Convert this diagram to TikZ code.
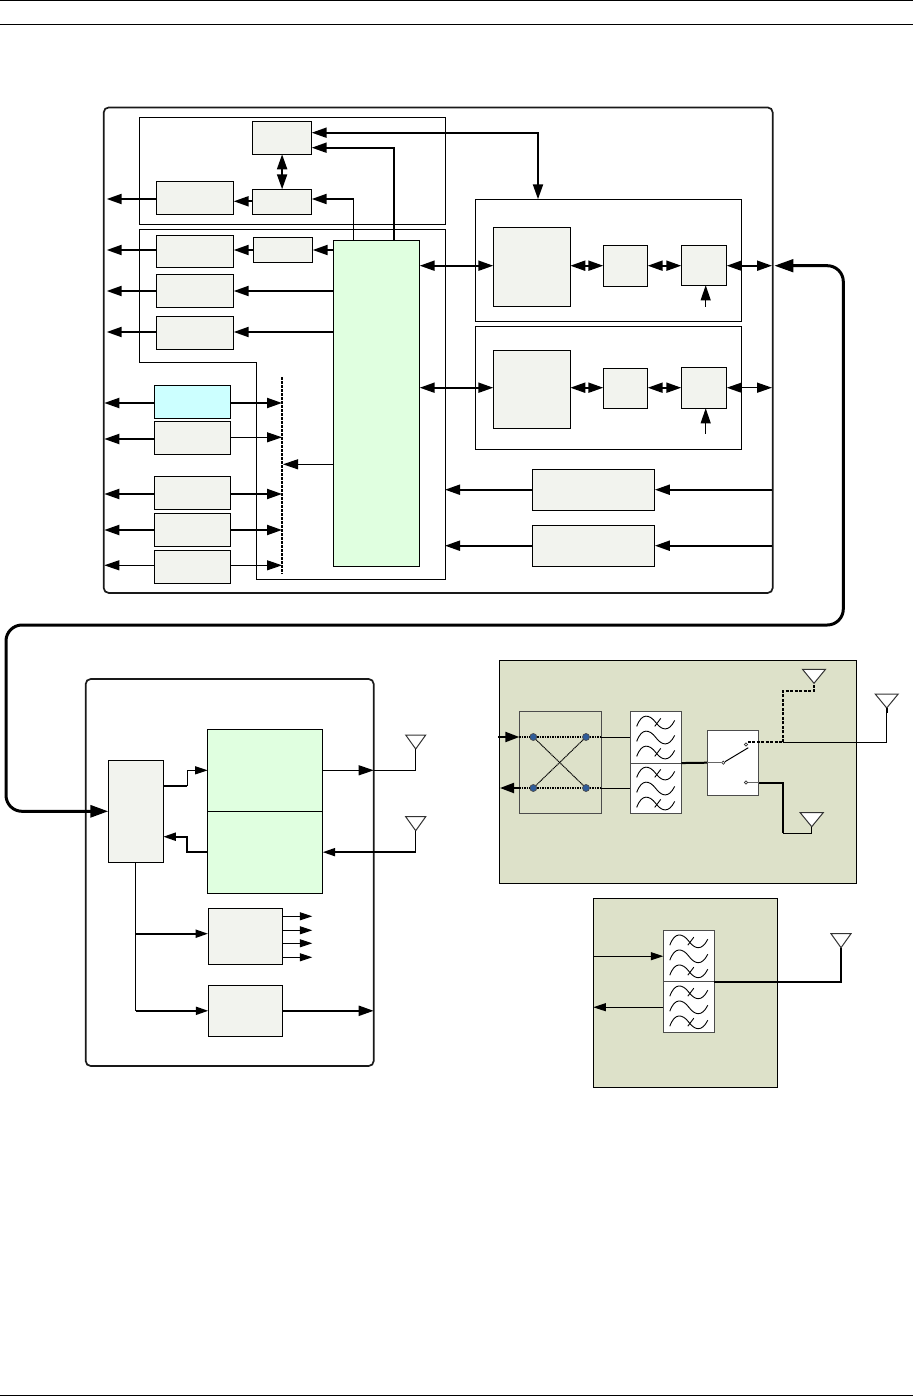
\documentclass[tikz,border=0pt]{standalone}
\usepackage{tikz}
\usetikzlibrary{arrows.meta,positioning,calc,shapes.geometric}
\definecolor{blockgrey}{HTML}{F2F3EE}
\definecolor{ctrlgreen}{HTML}{E0FFE0}
\definecolor{memcyan}{HTML}{CCFFFF}
\definecolor{panelsage}{HTML}{DDE1C9}
\definecolor{portblue}{HTML}{2E5C9A}

\begin{document}
\begin{tikzpicture}[x=1pt,y=-1pt,>={Triangle[length=15pt,width=10pt]},line join=miter]
\tikzset{outerbox/.style={draw=black!90,line width=1.7pt,rounded corners=5pt,inner sep=0pt,outer sep=0pt},
  innerbox/.style={draw,line width=1pt,inner sep=0pt,outer sep=0pt},
  block/.style={innerbox,fill=blockgrey},
  ctrlbox/.style={innerbox,fill=ctrlgreen},
  filt/.style={draw=black!70,line width=1pt,fill=white,inner sep=0pt,outer sep=0pt},
  aerial/.style={isosceles triangle,isosceles triangle stretches,shape border rotate=-90,draw=black!80,fill=white,line width=1pt,inner sep=0pt,outer sep=0pt,minimum width=#1,minimum height=14pt},
  aerial/.default=20pt,
  pole/.style={circle,draw=black!80,fill=white,line width=.7pt,inner sep=0pt,minimum size=3.2pt},
  portdot/.style={circle,draw=black!70,fill=portblue,line width=.7pt,inner sep=0pt,minimum size=7pt},
  thin wire/.style={line width=1pt},
  mid wire/.style={line width=1.5pt},
  fat wire/.style={line width=2pt},
  cable/.style={line width=3pt,rounded corners=16pt,{Triangle[length=19pt,width=12.5pt]}-{Triangle[length=18pt,width=12pt]}},
  small tip/.style={-{Triangle[length=12.5pt,width=8pt]}},
  port tip/.style={-{Triangle[length=14pt,width=10pt]}},
  filterwaves/.pic={
    \foreach \dy in {-15,0,15}{\draw[line width=.9pt] (-19,\dy+4) .. controls (-14,\dy-10) and (-6,\dy-8) .. (0,\dy) .. controls (6,\dy+8) and (13,\dy+10) .. (19,\dy-2);}
    \foreach \dy in {-15,15}{\draw[line width=.9pt] (-1,\dy+4) -- (5,\dy-4);}
  }}
\useasboundingbox (0,0) rectangle (913,1396);
% page rules
\draw[line width=1pt] (0,0.5) -- (913,0.5);
\draw[line width=1pt] (0,24.5) -- (913,24.5);
\draw[line width=1pt] (0,1395) -- (913,1395);
% upper board
\node[outerbox,minimum width=669pt,minimum height=485.5pt] (board) at (438.2,350.2) {};
\node[innerbox,minimum width=305.5pt,minimum height=106.5pt] (audiobox) at (292.3,170.8) {};
\draw[innerbox] (139.5,229.3) -- (445,229.3) -- (445,579.3) -- (256.3,579.3) -- (256.3,362.3) -- (139.5,362.3) -- cycle;
\node[innerbox,minimum width=266pt,minimum height=122pt] (rxpanel) at (608.3,260.3) {};
\node[innerbox,minimum width=266pt,minimum height=123pt] (txpanel) at (608.3,387.8) {};
\node[block,minimum width=59.2pt,minimum height=33pt] (codec) at (282.1,137.8) {};
\node[block,minimum width=59.2pt,minimum height=25pt] (dac) at (282.1,201.8) {};
\node[block,minimum width=77.4pt,minimum height=33pt] (amp) at (195,197.8) {};
\node[block,minimum width=77.4pt,minimum height=32pt] (usb) at (195,251.3) {};
\node[block,minimum width=59.4pt,minimum height=25pt] (phy) at (283,249.8) {};
\node[block,minimum width=77.4pt,minimum height=33pt] (uart) at (195,290.8) {};
\node[block,minimum width=77.4pt,minimum height=33pt] (gpio) at (195,332.8) {};
\node[ctrlbox,minimum width=86pt,minimum height=326pt] (ctrl) at (376.7,403.3) {};
\node[innerbox,fill=memcyan,minimum width=76pt,minimum height=33pt] (flash) at (192.3,401.8) {};
\node[block,minimum width=76pt,minimum height=33pt] (sram) at (192.3,437.8) {};
\node[block,minimum width=76pt,minimum height=32.6pt] (keys) at (192.3,493) {};
\node[block,minimum width=76pt,minimum height=33pt] (lcd) at (192.3,529.8) {};
\node[block,minimum width=76pt,minimum height=33pt] (sim) at (192.3,566.8) {};
\node[block,minimum width=77pt,minimum height=79pt] (rxbase) at (531.8,266.8) {};
\node[block,minimum width=44.4pt,minimum height=41pt] (rxmix) at (625.5,265.8) {};
\node[block,minimum width=45.4pt,minimum height=40pt] (rxamp) at (704,265.3) {};
\node[block,minimum width=77pt,minimum height=78pt] (txbase) at (531.8,389.3) {};
\node[block,minimum width=44.4pt,minimum height=40pt] (txmix) at (625.5,388.3) {};
\node[block,minimum width=45.4pt,minimum height=41pt] (txamp) at (704,387.8) {};
\node[block,minimum width=122.7pt,minimum height=41pt] (ldoa) at (593.5,489.7) {};
\node[block,minimum width=122.7pt,minimum height=41pt] (ldob) at (593.5,545.7) {};
\coordinate (lfta) at (106.7,0);
\coordinate (lftb) at (104.3,0);
\coordinate (bustop) at (282,377.3);
\coordinate (busbot) at (282,574);
\coordinate (rowa) at (0,265.7);
\coordinate (rowb) at (0,387.7);
\coordinate (rail) at (772,0);
% upper wiring
\draw[fat wire,<->] (codec.east |- 0,132.7) -- (538,132.7) -- (538,0 |- rxpanel.north);
\draw[fat wire,->] (394,0 |- ctrl.north) -- (394,147.7) -- (codec.east |- 0,147.7);
\draw[fat wire,<->] (codec.south) -- (dac.north);
\draw[thin wire] (353.7,0 |- ctrl.north) -- (353.7,199);
\draw[fat wire,->] (353.7,199) -- (dac.east |- 0,199);
\draw[fat wire,->] (dac.west |- 0,201.3) -- (amp.east |- 0,201.3);
\draw[fat wire,->] (amp.west |- 0,199) -- (lfta |- 0,199);
\draw[fat wire,->] (ctrl.west |- 0,250) -- (phy.east |- 0,250);
\draw[fat wire,->] (phy.west |- 0,250) -- (usb.east |- 0,250);
\foreach \n/\ly in {usb/250,uart/291,gpio/332}{\draw[fat wire,->] (\n.west |- 0,\ly) -- (lfta |- 0,\ly);}
\foreach \n/\ly in {uart/291,gpio/332}{\draw[fat wire,->] (ctrl.west |- 0,\ly) -- (\n.east |- 0,\ly);}
\draw[line width=2pt,dash pattern=on 2.5pt off 1.5pt] (bustop) -- (busbot);
\foreach \n/\ly/\w in {flash/403/fat wire,sram/439/fat wire,keys/494/fat wire,lcd/530/fat wire,sim/565.3/thin wire}{\draw[\w,->] (\n.west |- 0,\ly) -- (lftb |- 0,\ly);}
\foreach \n/\ly/\w in {flash/403/fat wire,sram/437.3/thin wire,keys/494/fat wire,lcd/530/fat wire,sim/565.3/thin wire}{\draw[\w,->] (\n.east |- 0,\ly) -- (bustop |- 0,\ly);}
\draw[thin wire,->] (ctrl.west |- 0,464.3) -- (283,464.3);
\draw[fat wire,<->] (ctrl.east |- rowa) -- (rxbase.west |- rowa);
\draw[fat wire,<->] (ctrl.east |- rowb) -- (txbase.west |- rowb);
\draw[fat wire,<->] (rxbase.east |- rowa) -- (rxmix.west |- rowa);
\draw[fat wire,<->] (rxmix.east |- rowa) -- (rxamp.west |- rowa);
\draw[fat wire,<->] (rxamp.east |- rowa) -- (rail |- rowa);
\draw[fat wire,<->] (txbase.east |- rowb) -- (txmix.west |- rowb);
\draw[fat wire,<->] (txmix.east |- rowb) -- (txamp.west |- rowb);
\draw[mid wire,<->] (txamp.east |- rowb) -- (rail |- rowb);
\draw[thin wire,->] (705.7,306.7) -- (705.7,0 |- rxamp.south);
\draw[thin wire,->] (705.7,433.7) -- (705.7,0 |- txamp.south);
\draw[fat wire,->] (rail |- ldoa.east) -- (ldoa.east);
\draw[fat wire,->] (rail |- ldob.east) -- (ldob.east);
\draw[fat wire,->] (ldoa.west) -- (445,489.7);
\draw[fat wire,->] (ldob.west) -- (445,545.7);
% lower left board
\node[outerbox,minimum width=288pt,minimum height=387pt] (radio) at (229.7,872.5) {};
\node[block,minimum width=55pt,minimum height=102pt] (mux) at (135.8,811.3) {};
\node[ctrlbox,minimum width=115pt,minimum height=82pt] (gtx) at (265.2,770.3) {};
\node[ctrlbox,minimum width=115pt,minimum height=81.7pt] (grx) at (265.2,852.15) {};
\node[block,minimum width=74.3pt,minimum height=56pt] (osc) at (245.2,936.3) {};
\node[block,minimum width=74pt,minimum height=51pt] (gps) at (245.3,1010.8) {};
\node[aerial,anchor=apex] (anta) at (415.7,749) {};
\node[aerial,anchor=apex] (antb) at (415.7,830.7) {};
\coordinate (jog) at (187.3,0);
% the long cable
\draw[cable] (774.3,265.7) -- (843.3,265.7) -- (843.3,625) -- (6,625) -- (6,811.3) -- (mux.west);
% lower left wiring
\draw[fat wire] (mux.east |- 0,785.7) -- (jog |- 0,785.7);
\draw[thin wire,small tip] (jog |- 0,785.7) |- (gtx.west);
\draw[fat wire,small tip] (grx.west) -| (jog |- 0,836.7) -- (mux.east |- 0,836.7);
\draw[thin wire] (mux.south) -- (mux.south |- gps.west);
\draw[fat wire,small tip] (mux.south |- 0,933.7) -- (osc.west |- 0,933.7);
\draw[fat wire,small tip] (mux.south |- gps.west) -- (gps.west);
\foreach \ly in {916.3,930.3,943.3,957.3}{\draw[thin wire,small tip] (osc.east |- 0,\ly) -- (312.3,\ly);}
\draw[fat wire,->] (gps.east) -- (radio.east |- gps.east);
\draw[thin wire,->] (gtx.east) -- (radio.east |- gtx.east);
\draw[thin wire] (radio.east |- gtx.east) -| (anta.apex);
\draw[fat wire,small tip] (antb.apex |- grx.east) -- (grx.east);
\draw[thin wire] (antb.apex) -- (antb.apex |- grx.east);
% front end panel
\node[innerbox,fill=panelsage,minimum width=357.4pt,minimum height=222.7pt] (fepanel) at (678,771.7) {};
\node[draw=black!70,line width=1pt,inner sep=0pt,outer sep=0pt,minimum width=81.7pt,minimum height=102pt] (hybrid) at (560.2,762.7) {};
\node[filt,minimum width=51.3pt,minimum height=51.3pt] (dupa) at (655.7,737.4) {};
\node[filt,minimum width=51.3pt,minimum height=50.7pt] (dupb) at (655.7,788.4) {};
\pic at (dupa) {filterwaves};
\pic at (dupb) {filterwaves};
\node[filt,minimum width=51.4pt,minimum height=65.3pt] (switch) at (733,762.7) {};
\node[portdot] (pa) at (533.3,737) {};
\node[portdot] (pb) at (586,737) {};
\node[portdot] (pc) at (533.3,788) {};
\node[portdot] (pd) at (586,788) {};
\node[pole] (swin) at (723.3,762.7) {};
\node[pole] (swa) at (746,744.5) {};
\node[pole] (swb) at (746,782.5) {};
\coordinate (armtip) at (748.3,747.7);
\node[aerial=23pt,anchor=apex] (antc) at (814,683.3) {};
\node[aerial=23pt,anchor=apex] (antd) at (886.7,708) {};
\node[aerial=23pt,anchor=apex] (ante) at (811.7,826.7) {};
\coordinate (drop) at (783.3,0);
% front end wiring
\draw[line width=1pt,dash pattern=on 1.2pt off .6pt] (pa) -- (pd);
\draw[line width=1pt,dash pattern=on 1.2pt off .6pt] (pb) -- (pc);
\draw[line width=1.5pt,densely dotted] (hybrid.west |- pa) -- (pa.west);
\draw[line width=1.5pt,densely dotted] (pa.east) -- (pb.west);
\draw[line width=1.5pt,densely dotted] (pb.east) -- (hybrid.east |- pb);
\draw[line width=1.5pt,densely dotted] (hybrid.west |- pc) -- (pc.west);
\draw[line width=1.5pt,densely dotted] (pc.east) -- (pd.west);
\draw[line width=1.5pt,densely dotted] (pd.east) -- (hybrid.east |- pd);
\draw[fat wire,port tip] (498,737) -- (hybrid.west |- pa);
\draw[fat wire,port tip] (hybrid.west |- pc) -- (500,788);
\draw[thin wire] (hybrid.east |- pb) -- (dupa.west |- pb);
\draw[thin wire] (hybrid.east |- pd) -- (dupb.west |- pd);
\draw[fat wire] (dupa.south east) -- (switch.west);
\draw[thin wire,draw=black!60] (switch.west) -- (swin);
\draw[thin wire] (swin) -- (armtip);
\draw[line width=1.7pt,dash pattern=on 3pt off 1.5pt] (swa.east |- 0,742.3) -- (drop |- 0,742.3);
\draw[thin wire] (drop |- 0,742.3) -| (antd.apex |- 0,713);
\draw[fat wire] (antd.apex |- 0,713) -- (antd.apex);
\draw[line width=2pt,dash pattern=on 3pt off 1.5pt] (drop |- 0,742.3) |- (antc.apex |- 0,690.7) -- (antc.apex);
\draw[thin wire,draw=black!60] (swb) -- (switch.east |- swb);
\draw[fat wire] (switch.east |- swb) -| (drop |- 0,833);
\draw[thin wire] (drop |- 0,833) -| (ante.apex);
% second panel
\node[innerbox,fill=panelsage,minimum width=184.4pt,minimum height=189pt] (gpspanel) at (685.5,992.8) {};
\node[filt,minimum width=51pt,minimum height=51pt] (dupc) at (688.8,956.2) {};
\node[filt,minimum width=51pt,minimum height=51pt] (dupd) at (688.8,1007.2) {};
\pic at (dupc) {filterwaves};
\pic at (dupd) {filterwaves};
\node[aerial,anchor=apex] (antf) at (841,947.7) {};
\draw[thin wire,small tip] (gpspanel.west |- dupc.west) -- (dupc.west);
\draw[thin wire,small tip] (dupd.west) -- (gpspanel.west |- dupd.west);
\draw[fat wire] (dupc.south east) -| (antf.apex);
\end{tikzpicture}
\end{document}
